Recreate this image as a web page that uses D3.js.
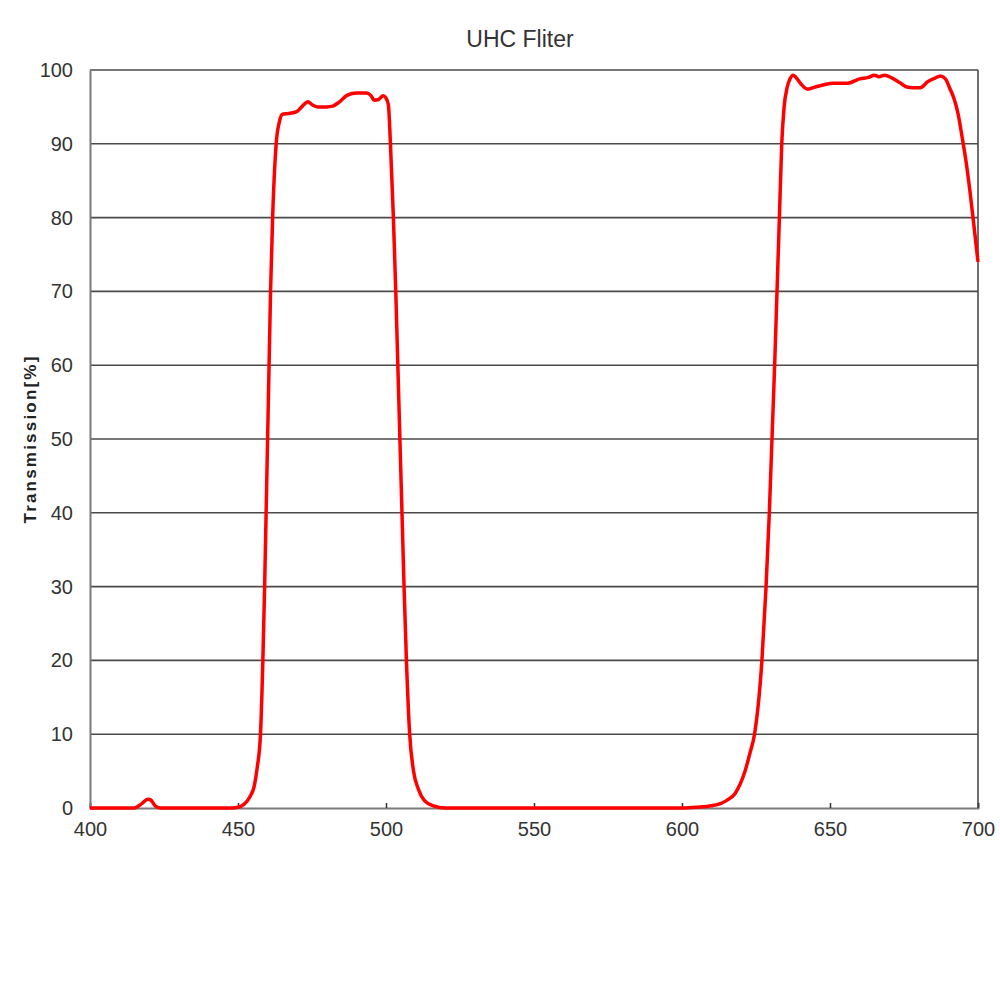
<!DOCTYPE html>
<html><head><meta charset="utf-8">
<script src="https://cdn.jsdelivr.net/npm/d3@7"></script>
<style>body{margin:0;background:#fff}</style>
</head><body>
<svg id="c" width="1000" height="1000"></svg>
<script>
const title = "UHC Fliter";
const yLabel = "Transmission[%]";
const xTicks = [400,450,500,550,600,650,700];
const yTicks = [0,10,20,30,40,50,60,70,80,90,100];
const wavelength = [
  400,415,417.5,419.5,420.5,422,424,448,
  450,452,454,455.5,456.5,457.6,458.4,459,459.5,460,460.5,461,461.7,462.9,464,465,
  467,470,472,473.6,475,477,480,482,484,487,490,493.5,495,496,497.5,499,500,500.8,
  501.5,502.5,503.3,504,504.7,505.4,506.1,506.9,508,509.3,511,513,516,520,
  560,600,605,610,613,615,618,621.3,623,624.5,
  627,628.4,629.5,630.4,631.3,632.1,632.9,633.7,634.5,635.5,636.5,637.5,638.5,
  640,642.5,645,648,651,656,660,663,665,666.5,668.5,671,673.5,676,678,680.5,683,685.5,687.3,
  689,690.5,692,693.2,694.6,696,697.3,698.6,700
];
const transmission = [
  0,0,0.6,1.2,1.1,0.3,0,0,
  0.1,0.5,1.5,3,5.5,10,20,30,40,50,60,70,80,90,93,94,
  94.1,94.4,95.2,95.7,95.3,95,95,95.1,95.6,96.6,96.9,96.9,96.5,95.9,96,96.5,96.2,95.3,
  90,80,70,60,50,40,30,20,10,5,2.5,1,0.3,0,
  0,0,0.1,0.3,0.6,1,2,5,7.5,10,
  20,30,40,50,60,70,80,90,95,97.6,98.8,99.3,99,
  98.2,97.4,97.7,98,98.2,98.2,98.8,99,99.3,99.1,99.3,98.9,98.3,97.7,97.6,97.6,98.4,98.9,99.2,
  98.8,97.5,96,94.2,91,87.5,83.5,79,74
];

const svg = d3.select("#c");
const L = 90, R = 978, T = 70, B = 808;
const x = d3.scaleLinear().domain([400,700]).range([L,R]);
const y = d3.scaleLinear().domain([0,100]).range([B,T]);
const font = "'Liberation Sans', Arial, sans-serif";

// gridlines
svg.append("g").selectAll("line").data(yTicks.filter(d=>d>0)).join("line")
  .attr("x1",L).attr("x2",R).attr("y1",d=>y(d)).attr("y2",d=>y(d))
  .attr("stroke","#4a4a4a").attr("stroke-width",1.6);

// x axis
const xa = svg.append("g").attr("transform",`translate(0,${B})`)
  .call(d3.axisBottom(x).tickValues(xTicks).tickSize(-5).tickPadding(14).tickFormat(d3.format("d")));
xa.select(".domain").attr("stroke","#7a7a7a").attr("stroke-width",2);
xa.selectAll(".tick line").attr("stroke","#333").attr("stroke-width",1.5);
xa.selectAll("text").attr("font-family",font).attr("font-size",20).attr("fill","#333");

// y axis
const ya = svg.append("g").attr("transform",`translate(${L},0)`)
  .call(d3.axisLeft(y).tickValues(yTicks).tickSize(0).tickPadding(17).tickFormat(d3.format("d")));
ya.select(".domain").attr("stroke","#7a7a7a").attr("stroke-width",2);
ya.selectAll("text").attr("font-family",font).attr("font-size",20).attr("fill","#333");

// right border
svg.append("line").attr("x1",R).attr("x2",R).attr("y1",T).attr("y2",B)
  .attr("stroke","#4a4a4a").attr("stroke-width",1.6);

// curve
const pts = wavelength.map((w,i)=>[w,transmission[i]]);
svg.append("path").datum(pts)
  .attr("d", d3.line().x(d=>x(d[0])).y(d=>y(d[1])).curve(d3.curveMonotoneX))
  .attr("fill","none").attr("stroke","#ff0000").attr("stroke-width",3.5)
  .attr("stroke-linejoin","round");

// title
svg.append("text").attr("x",520).attr("y",47).attr("text-anchor","middle")
  .attr("font-family",font).attr("font-size",23).attr("fill","#333").text(title);

// y label
svg.append("text").attr("transform","translate(36,439) rotate(-90)")
  .attr("text-anchor","middle").attr("font-family",font).attr("font-weight","bold")
  .attr("font-size",17).attr("letter-spacing",2.2).attr("fill","#222").text(yLabel);
</script>
</body></html>
